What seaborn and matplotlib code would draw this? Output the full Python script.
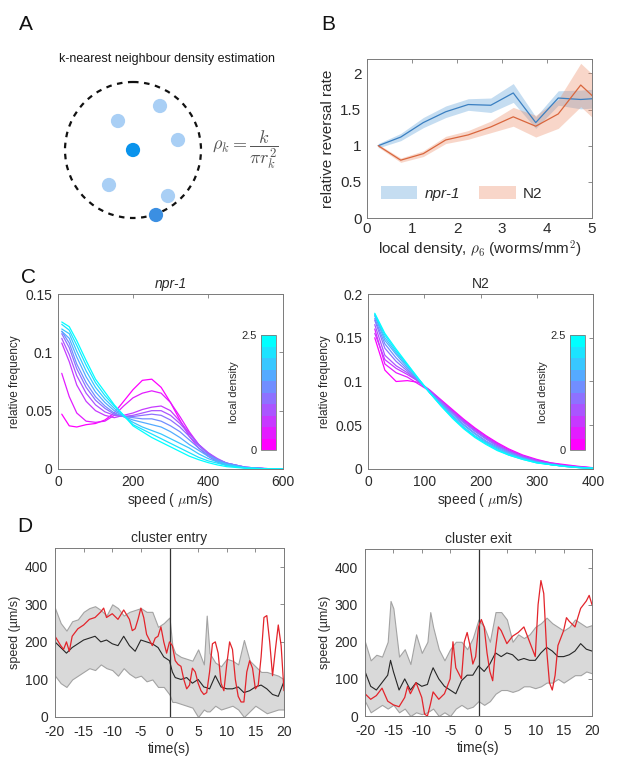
import matplotlib
matplotlib.use('Agg')
import numpy as np
import pandas as pd
import seaborn as sns
import matplotlib.pyplot as plt
from matplotlib.patches import Circle, Patch
from matplotlib.colors import ListedColormap, Normalize
from matplotlib.cm import ScalarMappable

# ---------------- data ----------------
# Panel A diagram (pixel layout of the schematic)
a_light_x = [118, 160, 178, 109, 168]
a_light_y = [121, 106, 140, 185, 196]
a_focal_x = [133]
a_focal_y = [150]
a_kth_x = [156]
a_kth_y = [215]

# Panel B
b_density = [0.25, 0.75, 1.25, 1.75, 2.25, 2.75, 3.25, 3.75, 4.25, 4.75, 5.25]
b_npr1 = [1.00, 1.12, 1.32, 1.47, 1.57, 1.56, 1.73, 1.32, 1.66, 1.64, 1.66]
b_npr1_err = [0.03, 0.05, 0.07, 0.08, 0.08, 0.10, 0.13, 0.08, 0.10, 0.13, 0.13]
b_n2 = [1.00, 0.80, 0.89, 1.08, 1.15, 1.26, 1.40, 1.27, 1.44, 1.84, 1.55]
b_n2_err = [0.02, 0.03, 0.04, 0.05, 0.06, 0.08, 0.13, 0.15, 0.20, 0.30, 0.30]

# Panel C (npr-1)
c1_speed = [10, 30, 50, 75, 100, 125, 150, 175, 200, 225, 250, 275, 300, 325, 350, 375, 400, 425, 450, 500, 550, 600]
c1_levels = [0.0, 0.28, 0.56, 0.83, 1.11, 1.39, 1.67, 1.94, 2.22, 2.5]
c1_freq = [
    [0.047, 0.037, 0.036, 0.038, 0.039, 0.042, 0.048, 0.058, 0.068, 0.076, 0.077, 0.070, 0.057, 0.042, 0.028, 0.018, 0.011, 0.006, 0.003, 0.001, 0.0003, 0.0],
    [0.082, 0.062, 0.048, 0.041, 0.040, 0.041, 0.046, 0.054, 0.061, 0.065, 0.067, 0.065, 0.057, 0.045, 0.032, 0.021, 0.013, 0.007, 0.004, 0.001, 0.0003, 0.0],
    [0.108, 0.092, 0.072, 0.058, 0.050, 0.046, 0.044, 0.046, 0.048, 0.051, 0.053, 0.054, 0.050, 0.041, 0.031, 0.021, 0.014, 0.008, 0.005, 0.0015, 0.0004, 0.0],
    [0.112, 0.098, 0.080, 0.065, 0.055, 0.049, 0.046, 0.045, 0.046, 0.048, 0.050, 0.050, 0.046, 0.039, 0.030, 0.021, 0.014, 0.009, 0.005, 0.0015, 0.0004, 0.0],
    [0.116, 0.104, 0.086, 0.070, 0.059, 0.052, 0.047, 0.045, 0.045, 0.046, 0.047, 0.046, 0.042, 0.036, 0.028, 0.020, 0.013, 0.008, 0.005, 0.0015, 0.0004, 0.0],
    [0.118, 0.108, 0.090, 0.074, 0.062, 0.054, 0.048, 0.045, 0.044, 0.043, 0.043, 0.041, 0.037, 0.032, 0.025, 0.018, 0.012, 0.008, 0.005, 0.0015, 0.0004, 0.0],
    [0.118, 0.112, 0.096, 0.079, 0.066, 0.057, 0.050, 0.045, 0.042, 0.040, 0.038, 0.036, 0.032, 0.027, 0.021, 0.016, 0.011, 0.007, 0.004, 0.0012, 0.0003, 0.0],
    [0.120, 0.116, 0.101, 0.084, 0.070, 0.060, 0.052, 0.045, 0.040, 0.036, 0.033, 0.030, 0.026, 0.022, 0.018, 0.013, 0.009, 0.006, 0.004, 0.001, 0.0003, 0.0],
    [0.124, 0.119, 0.106, 0.089, 0.074, 0.063, 0.054, 0.046, 0.038, 0.034, 0.030, 0.026, 0.022, 0.018, 0.014, 0.010, 0.007, 0.005, 0.003, 0.0008, 0.0002, 0.0],
    [0.126, 0.122, 0.110, 0.093, 0.077, 0.066, 0.055, 0.046, 0.037, 0.032, 0.027, 0.023, 0.019, 0.015, 0.011, 0.008, 0.0055, 0.0035, 0.002, 0.0006, 0.0002, 0.0],
]

# Panel C (N2)
c2_speed = [12, 30, 50, 70, 90, 110, 130, 150, 170, 190, 210, 230, 250, 275, 300, 325, 350, 375, 400]
c2_levels = [0.0, 0.28, 0.56, 0.83, 1.11, 1.39, 1.67, 1.94, 2.22, 2.5]
c2_freq = [
    [0.150, 0.113, 0.100, 0.101, 0.099, 0.090, 0.079, 0.068, 0.057, 0.047, 0.038, 0.030, 0.023, 0.016, 0.011, 0.007, 0.005, 0.003, 0.0015],
    [0.160, 0.120, 0.110, 0.105, 0.097, 0.089, 0.078, 0.067, 0.056, 0.046, 0.037, 0.029, 0.022, 0.015, 0.010, 0.007, 0.004, 0.0025, 0.0013],
    [0.155, 0.125, 0.115, 0.108, 0.100, 0.090, 0.078, 0.066, 0.055, 0.045, 0.036, 0.028, 0.021, 0.015, 0.010, 0.006, 0.004, 0.0023, 0.0012],
    [0.165, 0.130, 0.118, 0.110, 0.100, 0.089, 0.077, 0.065, 0.054, 0.044, 0.035, 0.027, 0.020, 0.014, 0.009, 0.006, 0.0038, 0.0022, 0.0011],
    [0.170, 0.138, 0.123, 0.112, 0.100, 0.088, 0.076, 0.064, 0.053, 0.043, 0.034, 0.026, 0.020, 0.013, 0.009, 0.006, 0.0035, 0.002, 0.001],
    [0.172, 0.143, 0.127, 0.114, 0.101, 0.088, 0.075, 0.063, 0.051, 0.041, 0.032, 0.025, 0.019, 0.013, 0.008, 0.005, 0.0033, 0.0019, 0.001],
    [0.175, 0.147, 0.131, 0.116, 0.102, 0.087, 0.074, 0.061, 0.050, 0.040, 0.031, 0.024, 0.018, 0.012, 0.008, 0.005, 0.003, 0.0018, 0.0009],
    [0.176, 0.150, 0.133, 0.118, 0.102, 0.087, 0.073, 0.060, 0.048, 0.038, 0.030, 0.023, 0.017, 0.012, 0.0075, 0.005, 0.003, 0.0017, 0.0009],
    [0.177, 0.153, 0.135, 0.119, 0.103, 0.087, 0.072, 0.059, 0.047, 0.037, 0.029, 0.022, 0.016, 0.011, 0.007, 0.005, 0.003, 0.0016, 0.0008],
    [0.178, 0.155, 0.137, 0.120, 0.103, 0.087, 0.072, 0.058, 0.046, 0.036, 0.028, 0.021, 0.016, 0.011, 0.007, 0.005, 0.003, 0.0015, 0.0008],
]

# Panel D entry
d1_t = [-20, -19, -18, -17, -16, -15, -14, -13, -12, -11, -10, -9, -8, -7, -6, -5, -4, -3, -2, -1, 0,
        0.5, 1, 2, 3, 4, 5, 6, 6.5, 7, 8, 9, 10, 11, 12, 13, 14, 15, 16, 17, 18, 19, 20]
d1_upper = [290, 250, 230, 255, 260, 280, 290, 295, 285, 270, 300, 290, 270, 280, 285, 290, 280, 280, 240, 250, 265,
            190, 170, 160, 155, 150, 180, 140, 270, 170, 145, 135, 155, 150, 140, 205, 150, 135, 120, 120, 115, 110, 100]
d1_lower = [110, 90, 80, 100, 110, 120, 130, 125, 140, 130, 125, 110, 130, 115, 105, 110, 95, 100, 80, 80, 60,
            40, 40, 35, 30, 25, 0, 20, 15, 15, 30, 20, 25, 30, 20, 0, 15, 30, 20, 10, 15, 20, 20]
d1_mean = [200, 185, 170, 185, 195, 205, 210, 215, 200, 205, 195, 190, 215, 190, 175, 205, 200, 195, 185, 160, 150,
           120, 105, 100, 105, 90, 100, 80, 78, 75, 110, 80, 75, 75, 80, 65, 70, 80, 85, 75, 60, 55, 95]
d1_red_t = [-20, -19, -18.5, -18, -17.5, -17, -16, -15, -14, -13, -12, -11.5, -11, -10, -9, -8, -7,
            -6.5, -6, -5.5, -5, -4.5, -4, -3, -2.5, -2, -1.5, -1, -0.5, 0,
            0.5, 1, 1.5, 2, 2.5, 3, 3.5, 4, 4.5, 5, 5.5, 6, 6.5, 7, 7.5, 8, 8.5, 9, 9.5, 10,
            10.5, 11, 11.5, 12, 12.5, 13, 13.5, 14, 14.5, 15, 15.5, 16, 16.5, 17, 17.5, 18, 18.5, 19, 19.5, 20]
d1_red = [215, 190, 180, 200, 175, 215, 235, 245, 260, 265, 280, 290, 265, 275, 260, 285, 260,
          230, 235, 260, 290, 265, 220, 190, 210, 215, 240, 200, 170, 200,
          190, 150, 140, 135, 100, 75, 85, 130, 120, 90, 70, 60, 65, 120, 195, 200, 170, 90, 70, 140,
          200, 180, 100, 55, 40, 40, 120, 150, 130, 75, 85, 160, 265, 270, 200, 110, 180, 245, 190, 70]

# Panel D exit
d2_t = [-20, -19, -18, -17, -16, -15.5, -15, -14, -13, -12, -11, -10, -9, -8.5, -8, -7, -6, -5, -4, -3, -2, -1, 0,
        1, 2, 3, 4, 5, 6, 7, 8, 9, 10, 11, 12, 13, 14, 15, 16, 17, 18, 19, 20]
d2_upper = [200, 150, 165, 160, 200, 310, 290, 160, 180, 140, 220, 170, 200, 280, 240, 180, 150, 180, 200, 200, 180, 210, 260,
            240, 200, 280, 280, 260, 200, 220, 210, 220, 240, 250, 265, 250, 240, 230, 240, 260, 250, 240, 245]
d2_lower = [40, 10, 20, 30, 20, 25, 30, 10, 20, 0, 10, 5, 10, 15, 20, 0, 10, 0, 20, 30, 20, 25, 40,
            30, 40, 60, 70, 70, 65, 70, 80, 80, 75, 80, 90, 90, 100, 90, 100, 110, 110, 120, 115]
d2_mean = [120, 80, 70, 90, 110, 150, 120, 70, 100, 70, 90, 80, 85, 110, 130, 100, 80, 70, 60, 95, 110, 110, 135,
           120, 140, 170, 160, 170, 165, 150, 155, 150, 150, 170, 185, 175, 160, 160, 165, 175, 195, 180, 175]
d2_red_t = [-20, -19, -18, -17, -16, -15, -14, -13, -12.5, -12, -11, -10, -9.5, -9, -8.5, -8, -7, -6, -5,
            -4.5, -4, -3, -2.5, -2, -1.5, -1, -0.5, 0, 0.5, 1, 1.5, 2, 2.5, 3, 3.5, 4,
            5, 6, 7, 8, 9, 10, 10.5, 11, 11.5, 12, 12.5, 13, 13.5, 14, 15, 15.5, 16, 17, 18, 19, 19.5, 20]
d2_red = [60, 45, 55, 75, 40, 30, 25, 50, 80, 60, 90, 50, 5, 0, 30, 65, 45, 60, 100,
          200, 130, 100, 200, 225, 190, 140, 160, 240, 260, 240, 170, 120, 95, 180, 240, 230,
          195, 215, 225, 240, 200, 160, 300, 365, 330, 180, 90, 70, 110, 190, 230, 265, 255, 240, 290, 310, 325, 300]

# ---------------- style ----------------
sns.set_style('white')
plt.rcParams['font.family'] = ['Liberation Sans', 'DejaVu Sans']
plt.rcParams['mathtext.fontset'] = 'cm'
plt.rcParams['axes.unicode_minus'] = False
TXT = '#2b2b2b'
SPN = '#7a7a7a'

W, H = 617, 771
fig = plt.figure(figsize=(W / 100, H / 100), dpi=100)


def px(l, t, r, b):
    return [l / W, 1 - b / H, (r - l) / W, (b - t) / H]


def style(ax, fs, xpad=3, ypad=3):
    for s in ax.spines.values():
        s.set_color(SPN)
        s.set_linewidth(0.7)
        s.set_visible(True)
    ax.tick_params(direction='in', length=3, width=0.6, colors=SPN, labelcolor=TXT,
                   labelsize=fs, top=True, right=True)
    ax.tick_params(axis='x', pad=xpad)
    ax.tick_params(axis='y', pad=ypad)


# ---------------- Panel A ----------------
axA = fig.add_axes([0, 1 - 240 / H, 310 / W, 240 / H])
axA.set_xlim(0, 310)
axA.set_ylim(240, 0)
axA.axis('off')
axA.add_patch(Circle((133, 150), 68, fill=False, ls=(0, (2.5, 2.5)), lw=1.6, color='#111111'))
axA.scatter(a_light_x, a_light_y, s=105, color='#a9cff5', edgecolors='none', zorder=3)
axA.scatter(a_focal_x, a_focal_y, s=105, color='#0a93ec', edgecolors='none', zorder=3)
axA.scatter(a_kth_x, a_kth_y, s=105, color='#3b8fe2', edgecolors='none', zorder=3)
axA.text(167, 59, 'k-nearest neighbour density estimation', ha='center', va='center',
         fontsize=9, color='#1a1a1a')
axA.text(212, 150, r'$\rho_k = \dfrac{k}{\pi r_k^2}$', ha='left', va='center',
         fontsize=13, color='#555555')

# panel letters
for lab, (x, y) in {'A': (26, 25), 'B': (328, 25), 'C': (28, 277), 'D': (25, 527)}.items():
    fig.text(x / W, 1 - y / H, lab, ha='center', va='center', fontsize=15, color='#111111')

# ---------------- Panel B ----------------
axB = fig.add_axes(px(367, 59, 592, 218))
blue_line, blue_fill = '#3a7fc1', (0.35, 0.62, 0.85)
org_line, org_fill = '#d9663d', (0.92, 0.55, 0.40)
bd = np.array(b_density)
axB.fill_between(bd, np.array(b_npr1) - b_npr1_err, np.array(b_npr1) + b_npr1_err,
                 color=blue_fill, alpha=0.35, lw=0)
axB.fill_between(bd, np.array(b_n2) - b_n2_err, np.array(b_n2) + b_n2_err,
                 color=org_fill, alpha=0.35, lw=0)
sns.lineplot(x=b_density, y=b_npr1, ax=axB, color=blue_line, lw=0.9)
sns.lineplot(x=b_density, y=b_n2, ax=axB, color=org_line, lw=0.9)
axB.set_xlim(0, 5)
axB.set_ylim(0, 2.2)
axB.set_xticks([0, 1, 2, 3, 4, 5])
axB.set_yticks([0, 0.5, 1, 1.5, 2])
axB.set_yticklabels(['0', '0.5', '1', '1.5', '2'])
style(axB, 11, xpad=3, ypad=4)
axB.set_ylabel('relative reversal rate', fontsize=11, color=TXT, labelpad=4)
axB.set_xlabel(r'local density, $\rho_6$ (worms/mm$^2$)', fontsize=11, color=TXT, labelpad=2)
handles = [Patch(facecolor=blue_fill, alpha=0.35, lw=0), Patch(facecolor=org_fill, alpha=0.35, lw=0)]
leg = axB.legend(handles, ['npr-1', 'N2'], loc='lower left', ncol=2, frameon=False, fontsize=11,
                 handlelength=2.4, handleheight=0.9, columnspacing=1.2, handletextpad=0.5,
                 bbox_to_anchor=(0.0, 0.02))
leg.get_texts()[0].set_fontstyle('italic')
for t in leg.get_texts():
    t.set_color(TXT)

# ---------------- Panel C ----------------
cmap10 = ListedColormap(plt.cm.cool_r(np.linspace(0, 1, 10)))


def c_panel(rect, cb_rect, speeds, levels, freqs, xlim, ylim, yticks, yticklabels, xticks, title, italic):
    ax = fig.add_axes(px(*rect))
    rows = []
    for lev, fr in zip(levels, freqs):
        for s, f in zip(speeds, fr):
            rows.append((s, f, lev))
    df = pd.DataFrame(rows, columns=['speed', 'freq', 'density'])
    sns.lineplot(data=df, x='speed', y='freq', hue='density', palette='cool_r', hue_norm=(0, 2.5),
                 legend=False, lw=0.9, estimator=None, ax=ax)
    ax.set_xlim(*xlim)
    ax.set_ylim(*ylim)
    ax.set_xticks(xticks)
    ax.set_yticks(yticks)
    ax.set_yticklabels(yticklabels)
    style(ax, 10, xpad=4, ypad=4)
    ax.set_xlabel(r'speed ( $\mu$m/s)', fontsize=10, color=TXT, labelpad=2)
    ax.set_ylabel('relative frequency', fontsize=8.5, color=TXT, labelpad=3)
    ax.set_title(title, fontsize=10, color=TXT, pad=4, fontstyle='italic' if italic else 'normal')
    cax = fig.add_axes(px(*cb_rect))
    cb = fig.colorbar(ScalarMappable(norm=Normalize(0, 2.5), cmap=cmap10), cax=cax)
    cb.set_ticks([0, 2.5])
    cb.set_ticklabels(['0', '2.5'])
    cax.yaxis.set_ticks_position('left')
    cax.yaxis.set_label_position('left')
    cax.tick_params(length=0, labelsize=8, labelcolor=TXT, pad=3)
    cb.outline.set_linewidth(0.6)
    cb.outline.set_edgecolor(SPN)
    cb.set_label('local density', fontsize=8, color=TXT, labelpad=2)
    return ax


c_panel((58, 294, 283, 469), (261, 335, 276, 450), c1_speed, c1_levels, c1_freq,
        (0, 600), (0, 0.15), [0, 0.05, 0.1, 0.15], ['0', '0.05', '0.1', '0.15'],
        [0, 200, 400, 600], 'npr-1', True)
c_panel((368, 294, 593, 469), (570, 335, 585, 450), c2_speed, c2_levels, c2_freq,
        (0, 400), (0, 0.2), [0, 0.05, 0.1, 0.15, 0.2], ['0', '0.05', '0.1', '0.15', '0.2'],
        [0, 100, 200, 300, 400], 'N2', False)


# ---------------- Panel D ----------------
def d_panel(rect, t, upper, lower, mean, rt, red, title):
    ax = fig.add_axes(px(*rect))
    ax.fill_between(t, lower, upper, facecolor='#d9d9d9', edgecolor='#a3a3a3', lw=0.8)
    ax.axvline(0, color='#333333', lw=0.9)
    sns.lineplot(x=t, y=mean, ax=ax, color='#262626', lw=0.8, estimator=None)
    sns.lineplot(x=rt, y=red, ax=ax, color='#e3242b', lw=0.9, estimator=None)
    ax.set_xlim(-20, 20)
    ax.set_ylim(0, 450)
    ax.set_xticks(range(-20, 21, 5))
    ax.set_yticks([0, 100, 200, 300, 400])
    style(ax, 10, xpad=6, ypad=5)
    ax.set_xlabel('time(s)', fontsize=10, color=TXT, labelpad=2)
    ax.set_ylabel('speed (µm/s)', fontsize=9, color=TXT, labelpad=3)
    ax.set_title(title, fontsize=10, color=TXT, pad=4)
    return ax


d_panel((55, 548, 284, 717), d1_t, d1_upper, d1_lower, d1_mean, d1_red_t, d1_red, 'cluster entry')
d_panel((365, 549, 592, 716), d2_t, d2_upper, d2_lower, d2_mean, d2_red_t, d2_red, 'cluster exit')

fig.savefig('out.png', dpi=100)
